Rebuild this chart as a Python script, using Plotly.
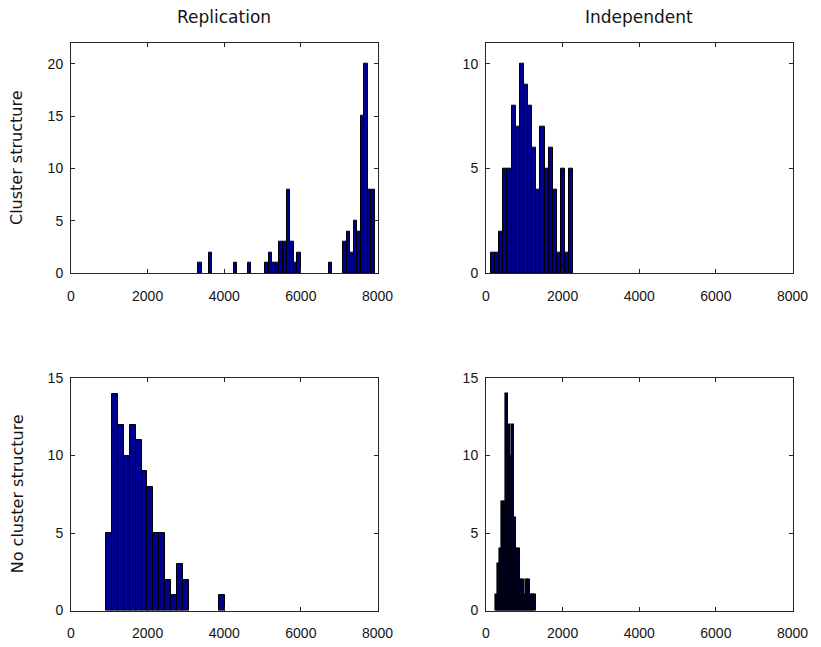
import numpy as np
import plotly.graph_objects as go

# Histogram counts (100 runs each) and the value range each histogram's bins span
rep_cluster_range = (3323, 7928)
rep_cluster_counts = [1, 0, 0, 2, 0, 0, 0, 0, 0, 0,
                      1, 0, 0, 0, 1, 0, 0, 0, 0, 1,
                      2, 1, 1, 3, 3, 8, 3, 1, 2, 0,
                      0, 0, 0, 0, 0, 0, 0, 1, 0, 0,
                      0, 3, 4, 2, 5, 4, 15, 20, 8, 8]

ind_cluster_range = (130, 2279)
ind_cluster_counts = [1, 1, 2, 5, 5, 8, 7, 10, 9, 8, 6, 4, 7, 5, 6, 4, 1, 5, 1, 5]

rep_nocluster_range = (906, 4020)
rep_nocluster_counts = [5, 14, 12, 10, 12, 11, 9, 8, 5, 5, 2, 1, 3, 2, 0, 0, 0, 0, 0, 1]

ind_nocluster_range = (253, 1297)
ind_nocluster_counts = [1, 3, 4, 7, 7, 14, 12, 10, 12, 6, 4, 4, 2, 2, 1, 2, 2, 1, 1, 1]

column_titles = ["Replication", "Independent"]
row_titles = ["Cluster structure", "No cluster structure"]
x_ticks = [0, 2000, 4000, 6000, 8000]
y_max = {"y": 22, "y2": 11, "y3": 15, "y4": 15}

W, H = 821, 647
BAR_FILL = "#00008F"
INK = "#262626"
TEXT = "#141414"
TICK_FONT = "Liberation Sans, Arial, sans-serif"
LABEL_FONT = "DejaVu Sans, sans-serif"

col_dom = [[71 / W, 377.5 / W], [486 / W, 792.5 / W]]
row_dom = [[1 - 273.3 / H, 1 - 42.7 / H], [1 - 610.5 / H, 1 - 378 / H]]

# (range, counts, x axis, y axis, bar edge width); the very narrow bins of the
# last panel get a slightly heavier outline so they read as dark strokes
panels = [
    (rep_cluster_range, rep_cluster_counts, "x", "y", 1),
    (ind_cluster_range, ind_cluster_counts, "x2", "y2", 1),
    (rep_nocluster_range, rep_nocluster_counts, "x3", "y3", 1),
    (ind_nocluster_range, ind_nocluster_counts, "x4", "y4", 1.6),
]

fig = go.Figure()
for (lo, hi), counts, xa, ya, edge_w in panels:
    edges = np.linspace(lo, hi, len(counts) + 1)
    centers = (edges[:-1] + edges[1:]) / 2
    counts = np.asarray(counts)
    keep = counts > 0  # empty bins draw nothing
    fig.add_trace(go.Bar(
        x=centers[keep], y=counts[keep], width=edges[1] - edges[0],
        marker=dict(color=BAR_FILL, line=dict(color="black", width=edge_w)),
        xaxis=xa, yaxis=ya, showlegend=False, hoverinfo="x+y",
    ))

common = dict(showline=True, linecolor=INK, linewidth=1, mirror="allticks",
              ticks="inside", ticklen=4, tickcolor=INK, showgrid=False,
              zeroline=False, automargin=False,
              tickfont=dict(family=TICK_FONT, size=14, color=TEXT))

layout = dict(template="none", width=W, height=H,
              margin=dict(l=0, r=0, t=0, b=0, pad=0, autoexpand=False),
              paper_bgcolor="white", plot_bgcolor="white", bargap=0,
              font=dict(family=TICK_FONT, color=TEXT))
for i, (xa, ya) in enumerate([("xaxis", "yaxis"), ("xaxis2", "yaxis2"),
                              ("xaxis3", "yaxis3"), ("xaxis4", "yaxis4")]):
    r, c = divmod(i, 2)
    yname = "y" if i == 0 else f"y{i + 1}"
    xname = "x" if i == 0 else f"x{i + 1}"
    layout[xa] = dict(domain=col_dom[c], anchor=yname, range=[0, 8000],
                      tickvals=x_ticks, ticklabelstandoff=10, **common)
    layout[ya] = dict(domain=row_dom[r], anchor=xname, range=[0, y_max[yname]],
                      dtick=5, tick0=0, ticklabelstandoff=4, **common)

annotations = []
for c, t in enumerate(column_titles):
    annotations.append(dict(text=t, x=sum(col_dom[c]) / 2, y=1 - 17 / H,
                            xref="paper", yref="paper", showarrow=False,
                            xanchor="center", yanchor="middle",
                            font=dict(family=LABEL_FONT, size=17, color=TEXT)))
for r, t in enumerate(row_titles):
    annotations.append(dict(text=t, x=17 / W, y=sum(row_dom[r]) / 2,
                            xref="paper", yref="paper", showarrow=False,
                            textangle=-90, xanchor="center", yanchor="middle",
                            font=dict(family=LABEL_FONT, size=16, color=TEXT)))
layout["annotations"] = annotations

fig.update_layout(**layout)
fig.write_html("out.html")
